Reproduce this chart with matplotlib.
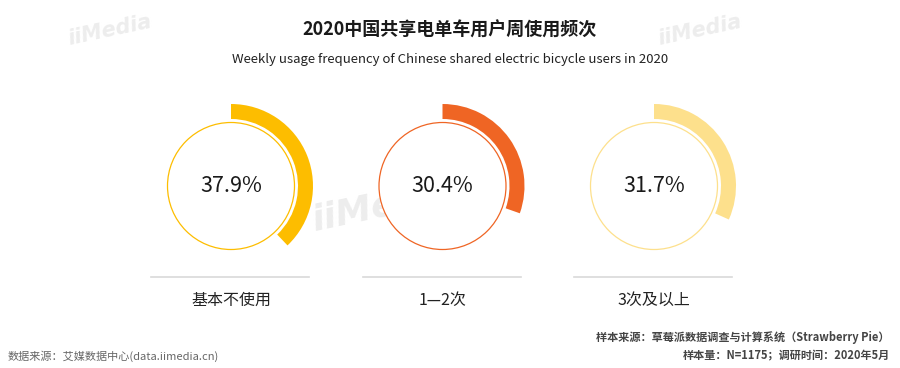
import matplotlib
matplotlib.use('Agg')
import matplotlib.pyplot as plt
from matplotlib.patches import Wedge, Circle

plt.rcParams['font.family'] = ['Noto Sans CJK SC', 'DejaVu Sans']

# data
categories = ['基本不使用', '1—2次', '3次及以上']
shares = [37.9, 30.4, 31.7]
colors = ['#FDBD00', '#EF6524', '#FDE08C']

title = '2020中国共享电单车用户周使用频次'
subtitle = 'Weekly usage frequency of Chinese shared electric bicycle users in 2020'
src_left = '数据来源：艾媒数据中心(data.iimedia.cn)'
src_right1 = '样本来源：草莓派数据调查与计算系统（Strawberry Pie）'
src_right2 = '样本量：N=1175；调研时间：2020年5月'

W, H = 900, 368
fig = plt.figure(figsize=(W / 100, H / 100), dpi=100)
ax = fig.add_axes([0, 0, 1, 1])
ax.set_xlim(0, W)
ax.set_ylim(0, H)
ax.set_aspect('equal')
ax.axis('off')

# faint watermarks
for wx, wy, fs in [(110, H - 30, 15), (700, H - 30, 15), (385, H - 205, 26)]:
    ax.text(wx, wy, 'iiMedia', fontsize=fs, color='#EDEDED', fontweight='bold',
            ha='center', va='center', rotation=12, style='italic', zorder=0,
            family='DejaVu Sans')

cx0, dx, cy = 231, 211.5, H - 186
r_out, ring_w, r_in = 82, 15, 63.5
for i, (cat, v, c) in enumerate(zip(categories, shares, colors)):
    cx = cx0 + i * dx
    ax.add_patch(Wedge((cx, cy), r_out, 90 - v / 100 * 360, 90, width=ring_w,
                       facecolor=c, edgecolor='none', zorder=2))
    ax.add_patch(Circle((cx, cy), r_in, facecolor='white', edgecolor=c,
                        linewidth=0.9, zorder=3))
    ax.text(cx, cy, f'{v:.1f}%', ha='center', va='center', fontsize=15.5,
            fontweight='medium', color='#1a1a1a', zorder=4)
    ax.plot([cx - 80, cx + 78], [H - 277, H - 277], color='#D9D9D9', lw=1.2)
    ax.text(cx, H - 300, cat, ha='center', va='center', fontsize=11.5,
            color='#222222')

ax.text(450, H - 30, title, ha='center', va='center', fontsize=13,
        fontweight='bold', color='#1a1a1a')
ax.text(450, H - 60, subtitle, ha='center', va='center', fontsize=9.5,
        color='#222222')

ax.text(8, H - 356, src_left, ha='left', va='center', fontsize=8,
        color='#666666')
ax.text(890, H - 338, src_right1, ha='right', va='center', fontsize=8,
        color='#444444', fontweight='bold')
ax.text(890, H - 356, src_right2, ha='right', va='center', fontsize=8,
        color='#444444', fontweight='bold')

fig.savefig('out.png', dpi=100)
